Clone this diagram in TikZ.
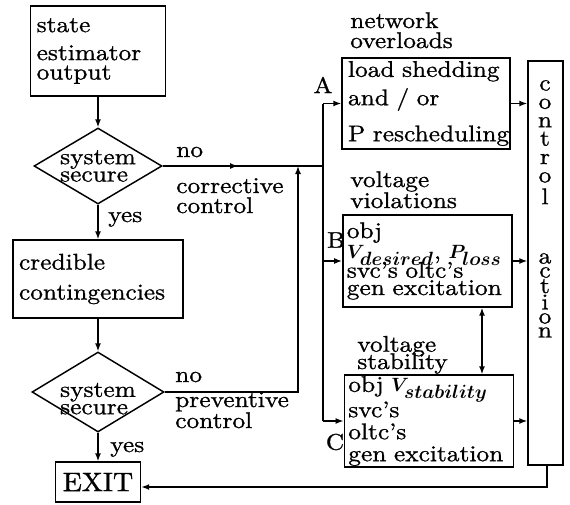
\documentclass[tikz,border=0pt]{standalone}
\usepackage{amsmath}
\usetikzlibrary{shapes.geometric, arrows.meta}
\usetikzlibrary{decorations.markings,calc}
\usetikzlibrary{positioning}

\font\dgrm="[lmroman10-regular]:mapping=tex-text;extend=1.12;embolden=1" at 17pt
\font\dgbig="[lmroman10-regular]:mapping=tex-text;extend=1.05;embolden=1" at 20pt
\newcommand{\dgfont}{\fontsize{17}{15.5}\selectfont\dgrm}
\newcommand{\dgmath}[1]{{\fontsize{15.5}{15.5}\selectfont\boldmath$#1$}}
\tikzset{
  every node/.style={font=\dgfont},
  box/.style={draw, line width=1.1pt, inner xsep=4.5pt, inner ysep=0pt, align=left},
  dia/.style={draw, line width=1.1pt, shape=diamond, inner sep=0pt},
  lbl/.style={inner sep=0pt, align=left},
  ln/.style={line width=1.1pt},
  arr/.style={-{Latex[length=6pt,width=4.5pt]}, line width=1.1pt},
  dblarr/.style={{Latex[length=6pt,width=4.5pt]}-{Latex[length=6pt,width=4.5pt]}, line width=1.1pt},
  midarr/.style={decoration={markings, mark=at position 0.47 with {\arrow{Latex[length=6pt,width=4.5pt]}}}, postaction={decorate}},
}

\begin{document}
\begin{tikzpicture}[x=0.75pt,y=0.75pt,yscale=-1,xscale=1]
  \path[use as bounding box] (0,0) rectangle (570,504);

  % left column
  \node[box, minimum width=101.25pt, minimum height=67.5pt, text width=92pt] (est) at (98,51) {state\\[5.5pt]estimator\\[-1pt]output};
  \node[dia, minimum width=96pt, minimum height=57pt, label={[name=dia1t, lbl]center:{system\\[-2.5pt]secure}}] (dia1) at (98,166) {};
  \node[box, minimum width=127.5pt, minimum height=58.5pt, text width=118.5pt] (cred) at (98,279) {credible\\[7pt]contingencies};
  \node[dia, minimum width=99pt, minimum height=60pt, label={[name=dia2t, lbl, yshift=-5pt]center:{system\\[-2.5pt]secure}}] (dia2) at (98,392) {};
  \node[box, minimum width=63.75pt, minimum height=30pt, align=center, font=\dgbig] (exit) at (98,482) {EXIT};

  % right column
  \node[box, minimum width=126pt, minimum height=68.25pt, text width=117pt] (A) at (426,103.5) {\mbox{load shedding}\\[4pt]and / or\\[10pt]\mbox{P rescheduling}};
  \node[box, minimum width=126.75pt, minimum height=69pt, text width=121pt, inner xsep=3pt] (B) at (427.5,261) {obj\\[0pt]\mbox{\dgmath{V_{\textstyle desired}}, \dgmath{P_{\textstyle loss}}}\\[-3.5pt]svc's oltc's\\[-2.5pt]\mbox{gen excitation}};
  \node[box, minimum width=126pt, minimum height=69pt, text width=121pt, inner xsep=3pt] (C) at (429,421) {obj \dgmath{V_{\textstyle stability}}\\[-1.5pt]svc's\\[1pt]oltc's\\[1pt]\mbox{gen excitation}};
  \node[box, minimum width=26.25pt, minimum height=303pt, inner sep=0pt] (act) at (545.5,263) {};
  \node[lbl, align=center, anchor=north, font={\dgfont\baselineskip=10.5pt}] (acttxt) at (545,80) {c\\[3.3pt]o\\[3.3pt]n\\[3.3pt]t\\[3.3pt]r\\[3.3pt]o\\[3.3pt]l\\[34pt]a\\c\\t\\i\\o\\n};

  % labels
  \node[lbl, anchor=base west] (no1) at (176,157) {no};
  \node[lbl, anchor=base west] (yes1) at (108,222) {yes};
  \node[lbl, anchor=base west] (corr) at (176,213) {corrective\\[-0.5pt]control};
  \node[lbl, anchor=base west] (no2) at (175,382) {no};
  \node[lbl, anchor=base west] (prev) at (175,428) {preventive\\[0.25pt]control};
  \node[lbl, anchor=base west] (yes2) at (110,452) {yes};
  \node[lbl, anchor=base west] (netw) at (350,48) {network\\[-0.5pt]overloads};
  \node[lbl, anchor=base west] (viol) at (350,208) {voltage\\[0.25pt]violations};
  \node[lbl, anchor=base west] (stab) at (357,369) {voltage\\[-2.5pt]stability};
  \node[lbl] (la) at (323,85) {A};
  \node[lbl] (lb) at (336,240) {B};
  \node[lbl] (lc) at (335,442) {C};

  % connectors
  \coordinate (bus) at (323,166);
  \coordinate (join) at (298,166);
  \coordinate (bc) at (482,0);
  \coordinate (fb) at (547,487);
  \draw[arr] (est) -- (dia1);
  \draw[arr] (dia1) -- (cred);
  \draw[arr] (cred) -- (dia2);
  \draw[arr] (dia2) -- (exit);
  \draw[ln, midarr] (dia1.east) -- (bus);
  \draw[ln] (bus |- A.west) -- (bus |- C.west);
  \draw[arr] (bus |- A.west) -- (A.west);
  \draw[arr] (bus |- B.west) -- (B.west);
  \draw[arr] (bus |- C.west) -- (C.west);
  \draw[arr] (dia2.east) -| (join);
  \draw[arr] (A.east) -- (A.east -| act.west);
  \draw[arr] (B.east) -- (B.east -| act.west);
  \draw[arr] (C.east) -- (C.east -| act.west);
  \draw[dblarr] (B.south -| bc) -- (C.north -| bc);
  \draw[arr] (act.south -| fb) -- (fb) -- (fb -| exit.east);
\end{tikzpicture}
\end{document}
